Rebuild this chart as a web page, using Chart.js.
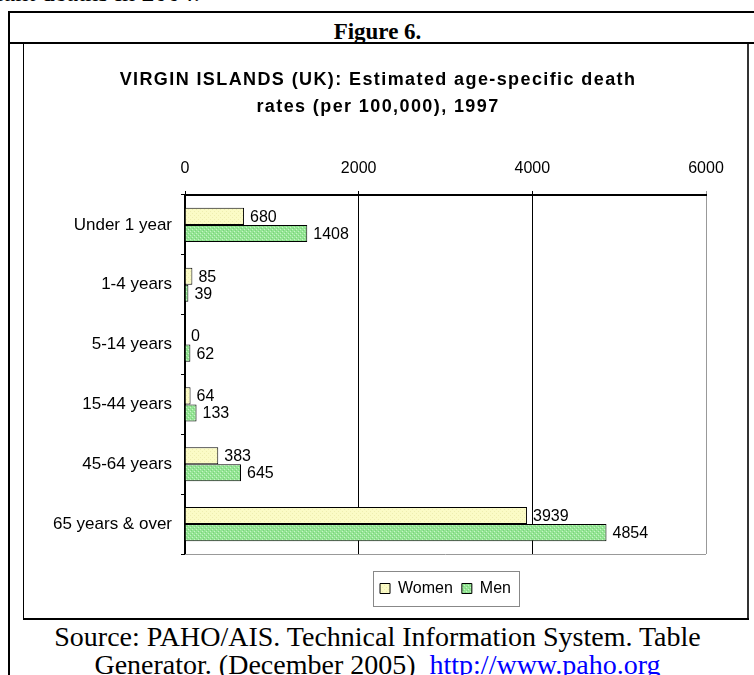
<!DOCTYPE html>
<html>
<head>
<meta charset="utf-8">
<script src="https://cdn.jsdelivr.net/npm/chart.js@4"></script>
<style>
  html, body { margin: 0; padding: 0; background: #fff; }
  body { width: 754px; height: 675px; position: relative; overflow: hidden; }
  .line { position: absolute; background: #000; }
  .serif { font-family: "Liberation Serif", "Times New Roman", serif; color: #000; position: absolute; white-space: nowrap; }
  #chartBox { position: absolute; left: 24px; top: 45px; width: 722px; height: 573px; }
  a { color: #0000ff; }
</style>
</head>
<body>
<div class="serif" style="right:554px; top:-22px; font-size:26px; line-height:30px;">infant deaths in 2004.</div>

<div class="line" style="left:8px; top:11px; width:746px; height:2px;"></div>
<div class="line" style="left:8px; top:11px; width:2px; height:664px;"></div>
<div class="line" style="left:8px; top:42px; width:746px; height:2px;"></div>
<div class="serif" style="left:8px; width:739px; top:18px; text-align:center; font-size:23px; line-height:28px; font-weight:bold;">Figure 6.</div>

<div class="line" style="left:23px; top:44px; width:1px; height:576px;"></div>
<div class="line" style="left:747px; top:44px; width:2px; height:576px; background:#333;"></div>
<div class="line" style="left:23px; top:618px; width:726px; height:2px;"></div>

<div id="chartBox"><canvas id="ageChart" width="722" height="573"></canvas></div>

<div class="serif" style="left:8px; width:739px; top:623px; text-align:center; font-size:28px; line-height:28px;">Source: PAHO/AIS. Technical Information System. Table<br>Generator. (December 2005)&nbsp; <a href="#">http://www.paho.org</a></div>

<script>
const ageGroups = ['Under 1 year', '1-4 years', '5-14 years', '15-44 years', '45-64 years', '65 years & over'];
const women = [680, 85, 0, 64, 383, 3939];
const men = [1408, 39, 62, 133, 645, 4854];
const xTicks = [0, 2000, 4000, 6000];
const titleLines = ['VIRGIN ISLANDS (UK): Estimated age-specific death', 'rates (per 100,000), 1997'];

const canvas = document.getElementById('ageChart');
const ctx = canvas.getContext('2d');

function makePattern(bg, dots) {
  const c = document.createElement('canvas');
  c.width = 4;
  c.height = 4;
  const g = c.getContext('2d');
  g.fillStyle = bg;
  g.fillRect(0, 0, 4, 4);
  dots.forEach(d => {
    g.fillStyle = d[2];
    g.fillRect(d[0], d[1], 1, 1);
  });
  return ctx.createPattern(c, 'repeat');
}

const womenFill = makePattern('#fbfbc6', [[0, 0, '#eeeeb0'], [2, 2, '#eeeeb0']]);
const menFill = makePattern('#94e494', [[0, 0, '#c6f4c6'], [2, 2, '#c6f4c6'], [1, 3, '#7ad47a'], [3, 1, '#7ad47a']]);

// value labels at the end of each bar
const barLabels = {
  id: 'barLabels',
  afterDatasetsDraw(chart) {
    const c = chart.ctx;
    c.save();
    c.font = '16px Arial, "Liberation Sans", sans-serif';
    c.fillStyle = '#000';
    c.textAlign = 'left';
    c.textBaseline = 'middle';
    chart.data.datasets.forEach((ds, i) => {
      chart.getDatasetMeta(i).data.forEach((bar, j) => {
        c.fillText(String(ds.data[j]), bar.x + 6, bar.y + 1);
      });
    });
    c.restore();
  }
};

// the title is laid out by Chart.js but painted here, with the wide letter spacing of the original
const spacedTitle = {
  id: 'spacedTitle',
  afterDraw(chart) {
    const t = chart.titleBlock;
    const opts = chart.options.plugins.title;
    const lh = 27;
    const c = chart.ctx;
    c.save();
    c.font = 'bold 18px Arial, "Liberation Sans", sans-serif';
    c.letterSpacing = '1.4px';
    c.fillStyle = '#000';
    c.textAlign = 'center';
    c.textBaseline = 'middle';
    titleLines.forEach((line, i) => {
      c.fillText(line, (t.left + t.right) / 2, t.top + opts.padding.top + lh / 2 + i * lh);
    });
    c.restore();
  }
};

// grey bottom edge of the plot and the box round the legend
const frames = {
  id: 'frames',
  afterDraw(chart) {
    const c = chart.ctx;
    const a = chart.chartArea;
    c.save();
    c.strokeStyle = '#999';
    c.lineWidth = 1;
    c.beginPath();
    c.moveTo(a.left, a.bottom + 0.5);
    c.lineTo(a.right, a.bottom + 0.5);
    c.stroke();

    const boxes = chart.legend.legendHitBoxes;
    if (boxes && boxes.length) {
      const first = boxes[0];
      const last = boxes[boxes.length - 1];
      const x0 = Math.round(first.left - 7) + 0.5;
      const x1 = Math.round(last.left + last.width + 8) + 0.5;
      const y0 = Math.round(first.top - 9.5) + 0.5;
      const y1 = Math.round(first.top + first.height + 9.5) + 0.5;
      c.strokeStyle = '#888';
      c.strokeRect(x0, y0, x1 - x0, y1 - y0);
    }
    c.restore();
  }
};

Chart.defaults.font.family = 'Arial, "Liberation Sans", sans-serif';
Chart.defaults.color = '#000';

new Chart(ctx, {
  type: 'bar',
  data: {
    labels: ageGroups,
    datasets: [{
      label: 'Women',
      data: women,
      backgroundColor: womenFill,
      borderColor: '#000',
      borderWidth: 1,
      categoryPercentage: 0.57,
      barPercentage: 1
    }, {
      label: 'Men',
      data: men,
      backgroundColor: menFill,
      borderColor: '#000',
      borderWidth: 1,
      categoryPercentage: 0.57,
      barPercentage: 1
    }]
  },
  options: {
    indexAxis: 'y',
    responsive: false,
    animation: false,
    layout: { padding: { left: 26, right: 40, top: 0, bottom: 11.5 } },
    scales: {
      x: {
        position: 'top',
        min: 0,
        max: 6000,
        afterBuildTicks: axis => { axis.ticks = xTicks.map(v => ({ value: v })); },
        afterFit: axis => { axis.height = 40; },
        ticks: { font: { size: 16 }, padding: 12.4, maxRotation: 0, callback: v => String(v) },
        grid: {
          color: c => (c.tick && c.tick.value === 6000 ? '#999' : '#000'),
          lineWidth: 1,
          tickLength: 4
        },
        border: { color: '#000', width: 2 }
      },
      y: {
        afterFit: axis => { axis.width = 135; },
        ticks: { font: { size: 17 }, padding: 9 },
        grid: { drawOnChartArea: false, color: '#000', tickLength: 4, offset: true },
        border: { color: '#000', width: 2 }
      }
    },
    plugins: {
      title: {
        display: true,
        text: titleLines,
        font: { size: 17, weight: 'bold', lineHeight: 1.588 },
        color: 'rgba(0,0,0,0)',
        padding: { top: 21.5, bottom: 34.5 }
      },
      legend: {
        position: 'bottom',
        fullSize: false,
        title: { display: true, text: ' ', padding: 0, font: { size: 14, lineHeight: 1.25 } },
        labels: { boxWidth: 10, boxHeight: 10, padding: 9, font: { size: 16 }, color: '#000' }
      },
      tooltip: { enabled: false }
    }
  },
  plugins: [barLabels, spacedTitle, frames]
});
</script>
</body>
</html>
